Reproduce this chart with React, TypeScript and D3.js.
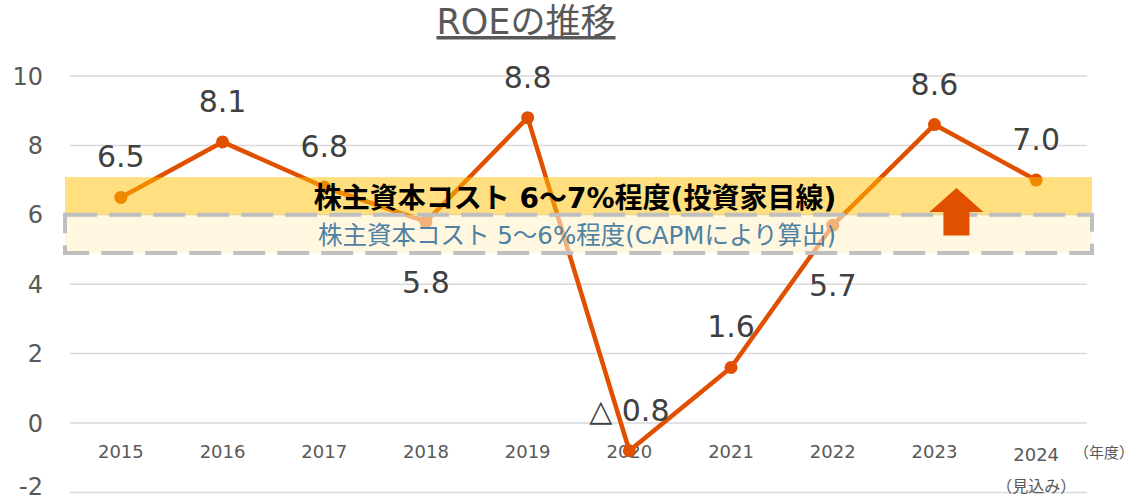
import React from "react";
import * as d3 from "d3";

const years = ["2015", "2016", "2017", "2018", "2019", "2020", "2021", "2022", "2023", "2024"];
const roe = [6.5, 8.1, 6.8, 5.8, 8.8, -0.8, 1.6, 5.7, 8.6, 7.0];
const labelPos = ["above", "above", "above", "below", "above", "above", "above", "below", "above", "above"];
const yTicks = [-2, 0, 2, 4, 6, 8, 10];
const investorBand = [6, 7];
const capmBand = [5, 6];
const title = "ROEの推移";
const investorText = "株主資本コスト 6～7%程度(投資家目線)";
const capmText = "株主資本コスト 5～6%程度(CAPMにより算出)";
const forecastNote = "（見込み）";
const unitLabel = "（年度）";

const W = 1135;
const H = 500;
const LINE = "#E05000";
const NUM_FONT = "'DejaVu Sans', 'Noto Sans CJK JP', sans-serif";
const JP_FONT = "'DejaVu Sans', 'Noto Sans CJK JP', sans-serif";

export default function App() {
  const x = d3.scaleBand<string>().domain(years).range([70, 1087]);
  const y = d3.scaleLinear().domain([-2, 10]).range([492.4, 76]);
  const cx = (i: number) => (x(years[i]) as number) + x.bandwidth() / 2;
  const line = d3
    .line<number>()
    .x((_, i) => cx(i))
    .y((d) => y(d));
  const fmt = (v: number) => (v < 0 ? "△ " + d3.format(".1f")(-v) : d3.format(".1f")(v));

  const bandX0 = x.range()[0] - 5;
  const bandX1 = x.range()[1] + 5;

  const arrowCx = cx(8) + 22;
  const arrowTip = y(investorBand[1]) + 8;
  const arrowBase = y(capmBand[0]) - 14;
  const headBase = arrowTip + 24;
  const arrowPath = [
    [arrowCx, arrowTip],
    [arrowCx + 27, headBase],
    [arrowCx + 13, headBase],
    [arrowCx + 13, arrowBase],
    [arrowCx - 13, arrowBase],
    [arrowCx - 13, headBase],
    [arrowCx - 27, headBase],
  ];

  return (
    <svg
      width={W}
      height={H}
      style={{ position: "absolute", left: 0, top: 0, background: "#fff" }}
    >
      {/* title */}
      <text
        x={526}
        y={34}
        textAnchor="middle"
        fontFamily={JP_FONT}
        fontSize={35}
        fill="#595959"
        textDecoration="underline"
      >
        {title}
      </text>

      {/* grid */}
      {yTicks.map((t) => (
        <g key={t}>
          <line
            x1={x.range()[0]}
            x2={x.range()[1]}
            y1={y(t)}
            y2={y(t)}
            stroke="#D9D9D9"
            strokeWidth={1.5}
          />
          <text
            x={43}
            y={Math.min(y(t), 486)}
            dy="0.36em"
            textAnchor="end"
            fontFamily={NUM_FONT}
            fontSize={24}
            fill="#595959"
          >
            {t}
          </text>
        </g>
      ))}

      {/* x labels */}
      {years.map((yr, i) => (
        <text
          key={yr}
          x={cx(i)}
          y={i === years.length - 1 ? 461 : 458}
          textAnchor="middle"
          fontFamily={NUM_FONT}
          fontSize={18}
          fill="#595959"
        >
          {yr}
        </text>
      ))}
      <text x={cx(9)} y={492} textAnchor="middle" fontFamily="'Noto Sans CJK JP', sans-serif" fontSize={16} fill="#595959">
        {forecastNote}
      </text>
      <text x={1074} y={458} fontFamily="'Noto Sans CJK JP', sans-serif" fontSize={15} fill="#595959">
        {unitLabel}
      </text>

      {/* line */}
      <path d={line(roe) as string} fill="none" stroke={LINE} strokeWidth={4.5} strokeLinejoin="round" />
      {roe.map((v, i) => (
        <circle key={i} cx={cx(i)} cy={y(v)} r={6.5} fill={LINE} />
      ))}

      {/* bands */}
      <rect
        x={bandX0}
        y={y(investorBand[1]) - 3}
        width={bandX1 - bandX0}
        height={y(investorBand[0]) - y(investorBand[1]) + 3}
        fill="#FFC000"
        fillOpacity={0.5}
      />
      <rect
        x={bandX0}
        y={y(capmBand[1])}
        width={bandX1 - bandX0}
        height={y(capmBand[0]) - y(capmBand[1]) + 3.5}
        fill="#FFF2CC"
        fillOpacity={0.6}
        stroke="#BFBFBF"
        strokeWidth={4}
        strokeDasharray="32,12"
      />
      <text
        x={575}
        y={y(investorBand[0]) - 7}
        textAnchor="middle"
        fontFamily={JP_FONT}
        fontWeight="bold"
        fontSize={28}
        fill="#000"
      >
        {investorText}
      </text>
      <text
        x={577}
        y={y(capmBand[0]) - 6}
        textAnchor="middle"
        fontFamily={JP_FONT}
        fontSize={24.5}
        fill="#4E81A3"
      >
        {capmText}
      </text>

      {/* arrow */}
      <polygon points={arrowPath.map((p) => p.join(",")).join(" ")} fill={LINE} />

      {/* data labels */}
      {roe.map((v, i) => (
        <text
          key={"l" + i}
          x={cx(i)}
          y={labelPos[i] === "above" ? y(v) - 30 : y(v) + 71}
          textAnchor="middle"
          fontFamily={NUM_FONT}
          fontSize={30}
          fill="#404040"
        >
          {fmt(v)}
        </text>
      ))}
    </svg>
  );
}
